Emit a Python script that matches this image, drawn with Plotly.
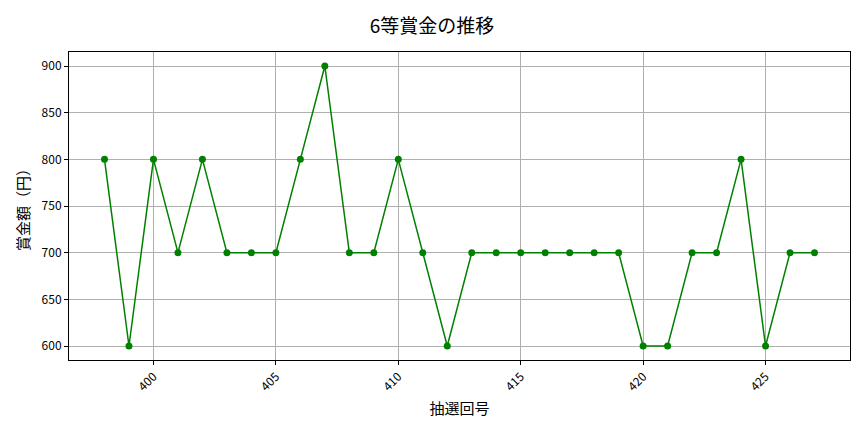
import plotly.graph_objects as go

draw_no = list(range(398, 428))
prize = [800, 600, 800, 700, 800, 700, 700, 700, 800, 900,
         700, 700, 800, 700, 600, 700, 700, 700, 700, 700,
         700, 700, 600, 600, 700, 700, 800, 600, 700, 700]

x_ticks = [400, 405, 410, 415, 420, 425]
y_ticks = [600, 650, 700, 750, 800, 850, 900]

font_jp = "Noto Sans CJK JP"

fig = go.Figure()
fig.add_trace(go.Scatter(
    x=draw_no, y=prize, mode="lines+markers",
    line=dict(color="green", width=1.5),
    marker=dict(color="green", size=7),
    showlegend=False,
))

axis_style = dict(
    showgrid=True, gridcolor="#b0b0b0", gridwidth=0.8,
    showline=True, linecolor="black", linewidth=1, mirror=True,
    ticks="outside", ticklen=4, tickcolor="black",
    tickfont=dict(size=12, color="black", family=font_jp),
    zeroline=False, automargin=False,
)

fig.update_xaxes(
    range=[396.55, 428.45], tickvals=x_ticks, tickangle=-45,
    title=dict(text="抽選回号", font=dict(size=15, family=font_jp, color="black"), standoff=10),
    **axis_style,
)
fig.update_yaxes(
    range=[585, 915], tickvals=y_ticks,
    title=dict(text="賞金額（円）", font=dict(size=15, family=font_jp, color="black"), standoff=8),
    **axis_style,
)

fig.update_layout(
    width=864, height=432,
    margin=dict(l=69, r=14, t=52, b=72),
    plot_bgcolor="white", paper_bgcolor="white",
    title=dict(text="6等賞金の推移", x=0.5, xanchor="center", y=0.94, yanchor="middle",
               font=dict(size=19, family=font_jp, color="black")),
    font=dict(family=font_jp),
)

# drop the browser's default page margin so the figure sits at the top-left corner
fig.write_html("out.html", config={"displayModeBar": False},
               post_script="document.body.style.margin='0';")
